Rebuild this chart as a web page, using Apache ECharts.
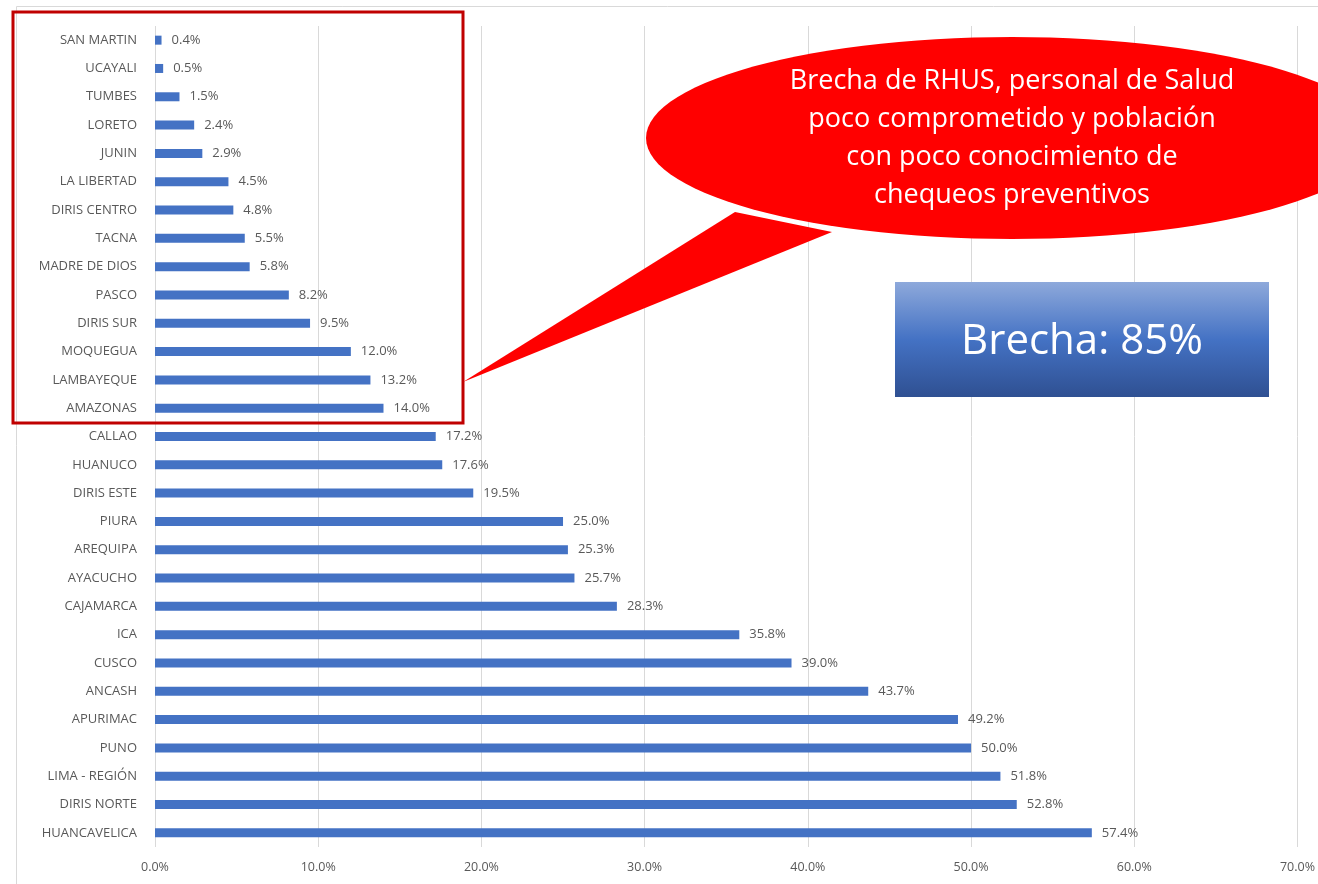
<!DOCTYPE html>
<html>
<head>
<meta charset="utf-8">
<script src="https://cdn.jsdelivr.net/npm/echarts@6/dist/echarts.min.js"></script>
<style>
  html, body { margin: 0; padding: 0; background: #fff; }
  #chart { width: 1318px; height: 884px; }
</style>
</head>
<body>
<div id="chart"></div>
<script>
// Regions, top to bottom
const regions = [
  "SAN MARTIN", "UCAYALI", "TUMBES", "LORETO", "JUNIN", "LA LIBERTAD",
  "DIRIS CENTRO", "TACNA", "MADRE DE DIOS", "PASCO", "DIRIS SUR", "MOQUEGUA",
  "LAMBAYEQUE", "AMAZONAS", "CALLAO", "HUANUCO", "DIRIS ESTE", "PIURA",
  "AREQUIPA", "AYACUCHO", "CAJAMARCA", "ICA", "CUSCO", "ANCASH", "APURIMAC",
  "PUNO", "LIMA - REGIÓN", "DIRIS NORTE", "HUANCAVELICA"
];

// Percent values
const percents = [
  0.4, 0.5, 1.5, 2.4, 2.9, 4.5,
  4.8, 5.5, 5.8, 8.2, 9.5, 12.0,
  13.2, 14.0, 17.2, 17.6, 19.5, 25.0,
  25.3, 25.7, 28.3, 35.8, 39.0, 43.7, 49.2,
  50.0, 51.8, 52.8, 57.4
];

const calloutLines = [
  "Brecha de RHUS, personal de Salud",
  "poco comprometido y población",
  "con poco conocimiento de",
  "chequeos preventivos"
];
const gapLabel = "Brecha: 85%";

const chart = echarts.init(document.getElementById("chart"), null, { renderer: "canvas" });

// callout bubble outline (decoration only)
const ellipsePts = [];
const cx = 1012, cy = 138, rx = 366, ry = 101;
for (let i = 0; i <= 120; i++) {
  const a = (i / 120) * Math.PI * 2;
  ellipsePts.push([cx + rx * Math.cos(a), cy + ry * Math.sin(a)]);
}

const font = "'Open Sans', 'Noto Sans', sans-serif";

chart.setOption({
  animation: false,
  textStyle: { fontFamily: font },
  grid: { left: 155, right: 18, top: 26, bottom: 37, containLabel: false },
  xAxis: {
    type: "value",
    min: 0,
    max: 70,
    interval: 10,
    axisLine: { show: false },
    axisTick: { show: false },
    axisLabel: {
      color: "#595959",
      fontSize: 12.5,
      margin: 14,
      formatter: (v) => v.toFixed(1) + "%"
    },
    splitLine: { show: true, lineStyle: { color: "#d9d9d9", width: 1 } }
  },
  yAxis: {
    type: "category",
    data: regions,
    inverse: true,
    axisLine: { show: false },
    axisTick: { show: false },
    axisLabel: { color: "#595959", fontSize: 13, margin: 18 }
  },
  series: [
    {
      type: "bar",
      data: percents,
      barWidth: 9,
      itemStyle: { color: "#4472C4" },
      label: {
        show: true,
        position: "right",
        distance: 10,
        color: "#595959",
        fontSize: 13,
        formatter: (p) => p.value.toFixed(1) + "%"
      }
    }
  ],
  graphic: [
    // outer chart frame
    {
      type: "rect",
      silent: true,
      z: 0,
      shape: { x: 16.5, y: 6.5, width: 1400, height: 1000 },
      style: { fill: null, stroke: "#d9d9d9", lineWidth: 1 }
    },
    // red highlight box
    {
      type: "rect",
      silent: true,
      z: 100,
      shape: { x: 13, y: 12, width: 450, height: 411 },
      style: { fill: null, stroke: "#C00000", lineWidth: 3 }
    },
    // callout tail
    {
      type: "polygon",
      silent: true,
      z: 100,
      shape: { points: [[735, 212], [463, 382], [832, 232]] },
      style: { fill: "#FF0000" }
    },
    // callout ellipse
    {
      type: "polygon",
      silent: true,
      z: 101,
      shape: { points: ellipsePts },
      style: { fill: "#FF0000" }
    },
    {
      type: "text",
      silent: true,
      z: 102,
      style: {
        x: 1012,
        y: 138,
        text: calloutLines.join("\n"),
        fill: "#ffffff",
        font: "27px " + font,
        lineHeight: 38,
        align: "center",
        verticalAlign: "middle"
      }
    },
    // blue gap box
    {
      type: "rect",
      silent: true,
      z: 100,
      shape: { x: 895, y: 282, width: 374, height: 115 },
      style: {
        fill: new echarts.graphic.LinearGradient(0, 0, 0, 1, [
          { offset: 0, color: "#8EA9DB" },
          { offset: 0.5, color: "#4472C4" },
          { offset: 1, color: "#2F5092" }
        ])
      }
    },
    {
      type: "text",
      silent: true,
      z: 101,
      style: {
        x: 1082,
        y: 342,
        text: gapLabel,
        fill: "#ffffff",
        font: "42px " + font,
        align: "center",
        verticalAlign: "middle"
      }
    }
  ]
});
</script>
</body>
</html>
